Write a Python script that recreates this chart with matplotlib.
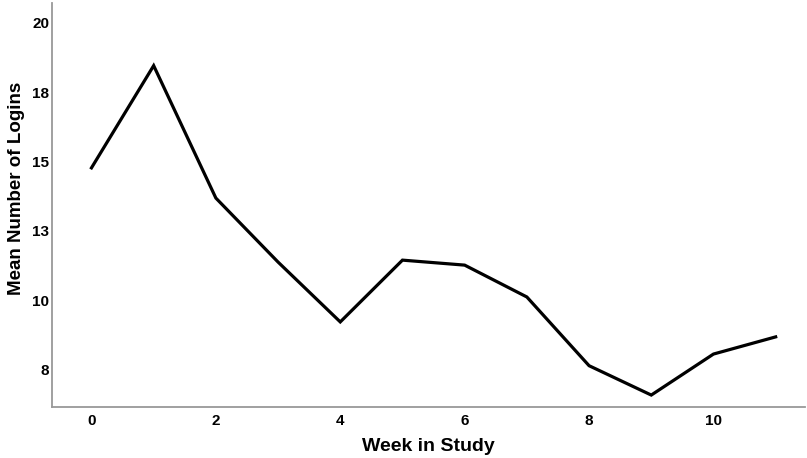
import matplotlib
matplotlib.use("Agg")
import matplotlib.pyplot as plt

# mean logins per week
weeks = [0, 1, 2, 3, 4, 5, 6, 7, 8, 9, 10, 11]
logins = [14.77, 18.46, 13.68, 11.37, 9.21, 11.44, 11.26, 10.11, 7.63, 6.57, 8.05, 8.67]

x_ticks = [0, 2, 4, 6, 8, 10]
y_ticks = [7.5, 10, 12.5, 15, 17.5, 20]
y_labels = ["8", "10", "13", "15", "18", "20"]

plt.rcParams["font.family"] = ["Liberation Sans", "DejaVu Sans"]
plt.rcParams["font.weight"] = "bold"

fig = plt.figure(figsize=(8.07, 4.58), dpi=100)
ax = fig.add_axes([0.0644, 0.1114, 0.933, 0.882])

ax.plot(weeks, logins, color="black", linewidth=2.3, solid_joinstyle="miter")

ax.set_xlim(-0.635, 11.47)
ax.set_ylim(6.14, 20.72)
ax.set_xticks(x_ticks)
ax.set_yticks(y_ticks)
ax.set_yticklabels(y_labels)
ax.tick_params(length=0, labelsize=11)
ax.tick_params(axis="x", pad=5)
ax.tick_params(axis="y", pad=2)

for s in ["top", "right"]:
    ax.spines[s].set_visible(False)
for s in ["left", "bottom"]:
    ax.spines[s].set_color("#999999")
    ax.spines[s].set_linewidth(1.3)

ax.set_xlabel("Week in Study", fontsize=14, fontweight="bold", labelpad=7)
ax.set_ylabel("Mean Number of Logins", fontsize=13.5, fontweight="bold")
ax.yaxis.set_label_coords(-0.036, 0.54)

fig.savefig("out.png", dpi=100)
